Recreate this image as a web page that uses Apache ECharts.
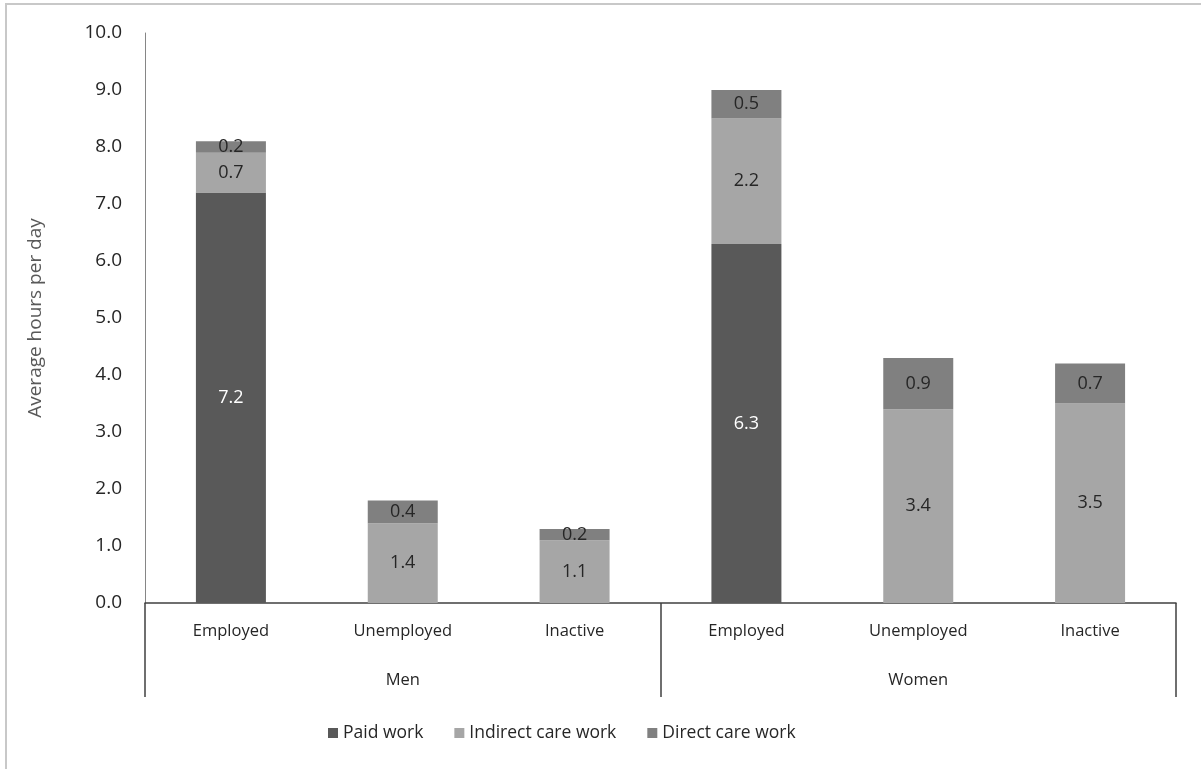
<!DOCTYPE html>
<html>
<head>
<meta charset="utf-8">
<script src="https://cdn.jsdelivr.net/npm/echarts@6/dist/echarts.min.js"></script>
<style>
html,body{margin:0;padding:0;background:#fff;}
#chart{width:1201px;height:769px;}
</style>
</head>
<body>
<div id="chart"></div>
<script>
const categories = ['Employed','Unemployed','Inactive','Employed','Unemployed','Inactive'];
const groups = ['Men','Women'];
const paidWork = [7.2, 0, 0, 6.3, 0, 0];
const indirectCare = [0.7, 1.4, 1.1, 2.2, 3.4, 3.5];
const directCare = [0.2, 0.4, 0.2, 0.5, 0.9, 0.7];
const yTicks = [0,1,2,3,4,5,6,7,8,9,10];

const FONT = 'Open Sans';
const chart = echarts.init(document.getElementById('chart'));

function lbl(color){
  return {
    show: true, position: 'inside', fontFamily: FONT, fontSize: 18, color: color,
    formatter: p => (p.value ? Number(p.value).toFixed(1) : '')
  };
}

chart.setOption({
  backgroundColor: '#fff',
  animation: false,
  textStyle: {fontFamily: FONT},
  graphic: [{
    type: 'rect', shape: {x: 6, y: 4, width: 1300, height: 900},
    style: {fill: 'none', stroke: '#c8c8c8', lineWidth: 2}, silent: true
  }],
  grid: {left: 145, right: 25, top: 33, bottom: 166},
  legend: {
    left: 328, top: 724, padding: 0, itemGap: 31, itemWidth: 10, itemHeight: 10, icon: 'rect',
    textStyle: {fontFamily: FONT, fontSize: 17.5, color: '#262626'},
    data: ['Paid work','Indirect care work','Direct care work']
  },
  xAxis: [{
    type: 'category', data: categories, position: 'bottom',
    axisLine: {show: true, lineStyle: {color: '#404040', width: 1.5}},
    axisTick: {show: false},
    axisLabel: {fontFamily: FONT, fontSize: 16.5, color: '#262626', margin: 20, interval: 0}
  },{
    type: 'category', data: groups, position: 'bottom', offset: 0,
    axisLine: {show: false},
    axisTick: {show: true, length: 94, interval: 0, lineStyle: {color: '#404040', width: 1.5}},
    axisLabel: {fontFamily: FONT, fontSize: 16.5, color: '#262626', margin: 69, interval: 0}
  }],
  yAxis: {
    type: 'value', min: 0, max: 10, interval: 1,
    name: 'Average hours per day', nameLocation: 'middle', nameGap: 100,
    nameTextStyle: {fontFamily: FONT, fontSize: 19, color: '#595959'},
    axisLine: {show: true, lineStyle: {color: '#868686', width: 1}},
    axisTick: {show: false},
    splitLine: {show: false},
    axisLabel: {fontFamily: FONT, fontSize: 19, color: '#262626', margin: 23,
      formatter: v => yTicks.includes(v) ? v.toFixed(1) : ''}
  },
  series: [
    {name: 'Paid work', type: 'bar', stack: 'a', barWidth: 70, data: paidWork,
     itemStyle: {color: '#595959'}, label: lbl('#ffffff')},
    {name: 'Indirect care work', type: 'bar', stack: 'a', barWidth: 70, data: indirectCare,
     itemStyle: {color: '#a6a6a6'}, label: lbl('#262626')},
    {name: 'Direct care work', type: 'bar', stack: 'a', barWidth: 70, data: directCare,
     itemStyle: {color: '#808080'}, label: lbl('#262626')}
  ]
});
</script>
</body>
</html>
